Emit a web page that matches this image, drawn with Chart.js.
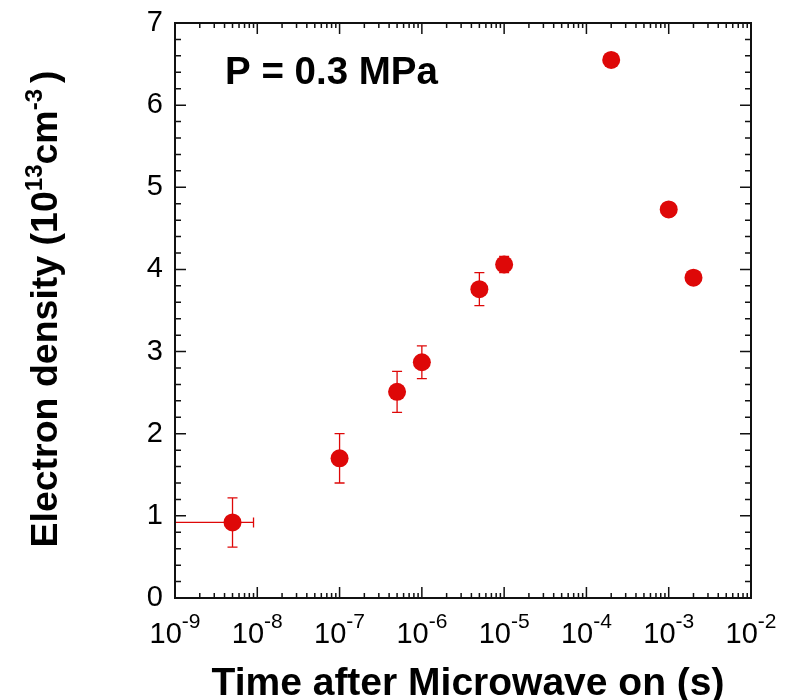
<!DOCTYPE html>
<html>
<head>
<meta charset="utf-8">
<script src="https://cdn.jsdelivr.net/npm/chart.js@4/dist/chart.umd.min.js"></script>
<style>
    html, body { margin: 0; padding: 0; background: #fff; }
    #wrap { width: 789px; height: 700px; }
</style>
</head>
<body>
<div id="wrap"><canvas id="chart" width="789" height="700"></canvas></div>
<script>
(function () {
    // time after microwave on (s) and electron density (1e13 cm^-3)
    const times = [5e-9, 1e-7, 5e-7, 1e-6, 5e-6, 1e-5, 2e-4, 1e-3, 2e-3];
    const density = [0.92, 1.70, 2.51, 2.87, 3.76, 4.06, 6.55, 4.73, 3.90];
    const densityErr = [0.30, 0.30, 0.25, 0.20, 0.20, 0.10, 0.05, 0.08, 0.08];
    const timeLow = [1e-9, null, null, null, null, null, null, null, null];
    const timeHigh = [9e-9, null, null, null, null, null, null, null, null];
    const xExponents = [-9, -8, -7, -6, -5, -4, -3, -2];
    const yTicks = [0, 1, 2, 3, 4, 5, 6, 7];

    const red = 'rgb(222, 8, 8)';
    const font = '"Liberation Sans", Arial, sans-serif';

    const points = times.map(function (t, i) {
        return { x: t, y: density[i] };
    });

    function drawFrameAndTicks(chart) {
        const ctx = chart.ctx;
        const area = chart.chartArea;
        const xs = chart.scales.x;
        const ys = chart.scales.y;
        ctx.save();
        ctx.strokeStyle = '#111';
        ctx.lineWidth = 1.5;

        ctx.beginPath();
        // x ticks, bottom and top
        xExponents.forEach(function (e, k) {
            const decade = Math.pow(10, e);
            const px = xs.getPixelForValue(decade);
            ctx.moveTo(px, area.bottom); ctx.lineTo(px, area.bottom - 11);
            ctx.moveTo(px, area.top); ctx.lineTo(px, area.top + 11);
            if (k < xExponents.length - 1) {
                for (let m = 2; m <= 9; m++) {
                    const mx = xs.getPixelForValue(m * decade);
                    ctx.moveTo(mx, area.bottom); ctx.lineTo(mx, area.bottom - 5);
                    ctx.moveTo(mx, area.top); ctx.lineTo(mx, area.top + 5);
                }
            }
        });
        // y ticks, left and right
        for (let v = 0; v <= 35; v++) {
            const val = v / 5;
            const py = ys.getPixelForValue(val);
            const len = v % 5 === 0 ? 11 : 6;
            ctx.moveTo(area.left, py); ctx.lineTo(area.left + len, py);
            ctx.moveTo(area.right, py); ctx.lineTo(area.right - len, py);
        }
        ctx.stroke();

        ctx.lineWidth = 2;
        ctx.strokeRect(area.left, area.top, area.right - area.left, area.bottom - area.top);

        // x tick labels 10^n
        ctx.fillStyle = '#000';
        ctx.textBaseline = 'alphabetic';
        ctx.textAlign = 'left';
        xExponents.forEach(function (e) {
            const px = xs.getPixelForValue(Math.pow(10, e));
            ctx.font = '29px ' + font;
            const wBase = ctx.measureText('10').width;
            ctx.font = '21px ' + font;
            const wExp = ctx.measureText(String(e)).width;
            const start = px - (wBase + wExp) / 2;
            ctx.font = '29px ' + font;
            ctx.fillText('10', start, area.bottom + 45);
            ctx.font = '21px ' + font;
            ctx.fillText(String(e), start + wBase, area.bottom + 30);
        });

        // y tick labels
        ctx.font = '29px ' + font;
        ctx.textAlign = 'right';
        yTicks.forEach(function (v) {
            ctx.fillText(String(v), area.left - 12, ys.getPixelForValue(v) + 8);
        });
        ctx.restore();
    }

    function drawRich(ctx, parts, x, y) {
        let cx = x;
        parts.forEach(function (p) {
            ctx.font = p.font;
            ctx.fillText(p.text, cx, y - (p.rise || 0));
            cx += ctx.measureText(p.text).width + (p.gap || 0);
        });
    }

    function richWidth(ctx, parts) {
        let w = 0;
        parts.forEach(function (p) {
            ctx.font = p.font;
            w += ctx.measureText(p.text).width + (p.gap || 0);
        });
        return w;
    }

    function drawTitles(chart) {
        const ctx = chart.ctx;
        ctx.save();
        ctx.fillStyle = '#000';
        ctx.textBaseline = 'alphabetic';

        ctx.font = 'bold 39px ' + font;
        ctx.textAlign = 'center';
        ctx.fillText('Time after Microwave on (s)', 468, 695);
        ctx.textAlign = 'left';

        const bold = 'bold 37.5px ' + font;
        const sup = 'bold 24px ' + font;
        const yParts = [
            { text: 'Electron density (10', font: bold },
            { text: '13', font: sup, rise: 15 },
            { text: 'cm', font: bold },
            { text: '-3', font: sup, rise: 15, gap: 6 },
            { text: ')', font: bold }
        ];
        const w = richWidth(ctx, yParts);
        ctx.translate(57, 309);
        ctx.rotate(-Math.PI / 2);
        drawRich(ctx, yParts, -w / 2, 0);
        ctx.restore();

        ctx.save();
        ctx.fillStyle = '#000';
        ctx.font = 'bold 38.5px ' + font;
        ctx.textBaseline = 'alphabetic';
        ctx.fillText('P = 0.3 MPa', 225, 84);
        ctx.restore();
    }

    function drawErrorBars(chart) {
        const ctx = chart.ctx;
        const xs = chart.scales.x;
        const ys = chart.scales.y;
        ctx.save();
        ctx.strokeStyle = red;
        ctx.lineWidth = 1.3;
        ctx.beginPath();
        times.forEach(function (t, i) {
            const px = xs.getPixelForValue(t);
            if (densityErr[i]) {
                const top = ys.getPixelForValue(density[i] + densityErr[i]);
                const bot = ys.getPixelForValue(density[i] - densityErr[i]);
                ctx.moveTo(px, top); ctx.lineTo(px, bot);
                ctx.moveTo(px - 5, top); ctx.lineTo(px + 5, top);
                ctx.moveTo(px - 5, bot); ctx.lineTo(px + 5, bot);
            }
            if (timeLow[i] !== null) {
                const py = ys.getPixelForValue(density[i]);
                const left = xs.getPixelForValue(timeLow[i]);
                const right = xs.getPixelForValue(timeHigh[i]);
                ctx.moveTo(left, py); ctx.lineTo(right, py);
                ctx.moveTo(right, py - 5); ctx.lineTo(right, py + 5);
            }
        });
        ctx.stroke();
        ctx.restore();
    }

    const decorations = {
        id: 'decorations',
        beforeDatasetsDraw: function (chart) {
            drawErrorBars(chart);
        },
        afterDraw: function (chart) {
            drawFrameAndTicks(chart);
            drawTitles(chart);
        }
    };

    new Chart(document.getElementById('chart').getContext('2d'), {
        type: 'scatter',
        data: {
            datasets: [
                {
                    label: 'P = 0.3 MPa',
                    data: points,
                    backgroundColor: red,
                    borderColor: red,
                    borderWidth: 0,
                    pointRadius: 9,
                    pointHoverRadius: 9
                }
            ]
        },
        options: {
            responsive: false,
            animation: false,
            devicePixelRatio: 1,
            layout: {
                padding: { left: 175, top: 23, right: 38, bottom: 102 }
            },
            scales: {
                x: {
                    type: 'logarithmic',
                    min: 1e-9,
                    max: 1e-2,
                    display: false
                },
                y: {
                    type: 'linear',
                    min: 0,
                    max: 7,
                    display: false
                }
            },
            plugins: {
                legend: { display: false },
                tooltip: { enabled: false }
            }
        },
        plugins: [decorations]
    });
})();
</script>
</body>
</html>
